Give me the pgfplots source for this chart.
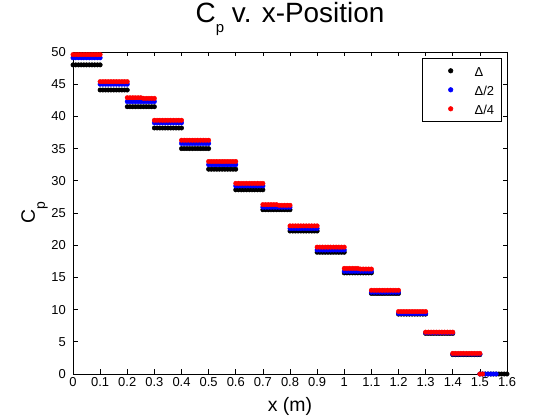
\documentclass[border=0pt]{standalone}
\usepackage{fontspec}
\setmainfont{Liberation Sans}
\usepackage{pgfplots}
\pgfplotsset{compat=1.18}
\begin{document}
\begin{tikzpicture}
\useasboundingbox (0,0) rectangle (560bp,420bp);
\begin{axis}[
  at={(73bp,46bp)}, anchor=south west,
  scale only axis, width=434bp, height=322bp,
  xmin=0, xmax=1.6, ymin=0, ymax=50,
  clip=false,
  axis line style={line width=0.6bp},
  tick align=inside, tick pos=both,
  major tick length=4.5bp,
  tick style={line width=0.6bp, black},
  xtick={0,0.1,0.2,0.3,0.4,0.5,0.6,0.7,0.8,0.9,1,1.1,1.2,1.3,1.4,1.5,1.6},
  xticklabels={0,0.1,0.2,0.3,0.4,0.5,0.6,0.7,0.8,0.9,1,1.1,1.2,1.3,1.4,1.5,1.6},
  ytick={0,5,10,15,20,25,30,35,40,45,50},
  yticklabels={0,5,10,15,20,25,30,35,40,45,50},
  ticklabel style={font=\fontsize{13}{15}\selectfont},
  yticklabel style={xshift=-3.7bp},
  /pgf/number format/assume math mode=true,
  title={C\raisebox{-10bp}{\fontsize{15}{15}\selectfont p} v. x-Position},
  title style={font=\fontsize{28}{30}\selectfont, at={(axis description cs:0.5,1.087)}, anchor=base, inner sep=0pt, yshift=-4.5bp},
  xlabel={x (m)},
  xlabel style={font=\fontsize{19.5}{22}\selectfont, at={(axis description cs:0.5,-0.1168)}, anchor=base, inner sep=0pt},
  ylabel={C\raisebox{-10bp}{\fontsize{14}{14}\selectfont p}},
  ylabel style={font=\fontsize{19.5}{22}\selectfont, at={(axis description cs:-0.0576,0.5)}, rotate=0, anchor=south, inner sep=0pt},
  legend style={at={(axis description cs:1,1)}, anchor=north east, xshift=-5bp, yshift=-6bp,
    draw=black, line width=0.6bp, fill=white, inner xsep=0pt, inner ysep=6.5bp, row sep=7bp,
    font=\fontsize{13}{15}\selectfont,
    nodes={inner sep=0pt, text height=11.5bp, text depth=0.5bp, text width=27bp}},
  legend cell align=left,
  legend image code/.code={\path[draw=none,fill=none] (-28bp,0bp) -- (24bp,0bp); \path[#1] plot[only marks] coordinates {(0bp,0bp)};},
]
\addplot[only marks, mark=*, mark size=2.25bp, black, mark options={draw=black, fill=black}] coordinates {
(0,48)(0.01,48)(0.02,48)(0.03,48)(0.04,48)(0.05,48)(0.06,48)(0.07,48)(0.08,48)(0.09,48)(0.1,48)
(0.1,44.1)(0.11,44.1)(0.12,44.1)(0.13,44.1)(0.14,44.1)(0.15,44.1)(0.16,44.1)(0.17,44.1)(0.18,44.1)(0.19,44.1)(0.2,44.1)
(0.2,41.5)(0.21,41.5)(0.22,41.5)(0.23,41.5)(0.24,41.5)(0.25,41.5)(0.26,41.5)(0.27,41.5)(0.28,41.5)(0.29,41.5)(0.3,41.5)
(0.3,38.2)(0.31,38.2)(0.32,38.2)(0.33,38.2)(0.34,38.2)(0.35,38.2)(0.36,38.2)(0.37,38.2)(0.38,38.2)(0.39,38.2)(0.4,38.2)
(0.4,35)(0.41,35)(0.42,35)(0.43,35)(0.44,35)(0.45,35)(0.46,35)(0.47,35)(0.48,35)(0.49,35)(0.5,35)
(0.5,31.8)(0.51,31.8)(0.52,31.8)(0.53,31.8)(0.54,31.8)(0.55,31.8)(0.56,31.8)(0.57,31.8)(0.58,31.8)(0.59,31.8)(0.6,31.8)
(0.6,28.6)(0.61,28.6)(0.62,28.6)(0.63,28.6)(0.64,28.6)(0.65,28.6)(0.66,28.6)(0.67,28.6)(0.68,28.6)(0.69,28.6)(0.7,28.6)
(0.7,25.5)(0.71,25.5)(0.72,25.5)(0.73,25.5)(0.74,25.5)(0.75,25.5)(0.76,25.5)(0.77,25.5)(0.78,25.5)(0.79,25.5)(0.8,25.5)
(0.8,22.2)(0.81,22.2)(0.82,22.2)(0.83,22.2)(0.84,22.2)(0.85,22.2)(0.86,22.2)(0.87,22.2)(0.88,22.2)(0.89,22.2)(0.9,22.2)
(0.9,18.9)(0.91,18.9)(0.92,18.9)(0.93,18.9)(0.94,18.9)(0.95,18.9)(0.96,18.9)(0.97,18.9)(0.98,18.9)(0.99,18.9)(1,18.9)
(1,15.7)(1.01,15.7)(1.02,15.7)(1.03,15.7)(1.04,15.7)(1.05,15.7)(1.06,15.7)(1.07,15.7)(1.08,15.7)(1.09,15.7)(1.1,15.7)
(1.1,12.5)(1.11,12.5)(1.12,12.5)(1.13,12.5)(1.14,12.5)(1.15,12.5)(1.16,12.5)(1.17,12.5)(1.18,12.5)(1.19,12.5)(1.2,12.5)
(1.2,9.3)(1.21,9.3)(1.22,9.3)(1.23,9.3)(1.24,9.3)(1.25,9.3)(1.26,9.3)(1.27,9.3)(1.28,9.3)(1.29,9.3)(1.3,9.3)
(1.3,6.3)(1.31,6.3)(1.32,6.3)(1.33,6.3)(1.34,6.3)(1.35,6.3)(1.36,6.3)(1.37,6.3)(1.38,6.3)(1.39,6.3)(1.4,6.3)
(1.4,3)(1.41,3)(1.42,3)(1.43,3)(1.44,3)(1.45,3)(1.46,3)(1.47,3)(1.48,3)(1.49,3)(1.5,3)
(1.5,0)(1.51,0)(1.52,0)(1.53,0)(1.54,0)(1.55,0)(1.56,0)(1.57,0)(1.58,0)(1.59,0)(1.6,0)
};
\addlegendentry{Δ}
\addplot[only marks, mark=*, mark size=2.25bp, blue, mark options={draw=blue, fill=blue}] coordinates {
(0,49.1)(0.01,49.1)(0.02,49.1)(0.03,49.1)(0.04,49.1)(0.05,49.1)(0.06,49.1)(0.07,49.1)(0.08,49.1)(0.09,49.1)(0.1,49.1)
(0.1,45)(0.11,45)(0.12,45)(0.13,45)(0.14,45)(0.15,45)(0.16,45)(0.17,45)(0.18,45)(0.19,45)(0.2,45)
(0.2,42.3)(0.21,42.3)(0.22,42.3)(0.23,42.3)(0.24,42.3)(0.25,42.3)(0.26,42.3)(0.27,42.3)(0.28,42.3)(0.29,42.3)(0.3,42.3)
(0.3,39)(0.31,39)(0.32,39)(0.33,39)(0.34,39)(0.35,39)(0.36,39)(0.37,39)(0.38,39)(0.39,39)(0.4,39)
(0.4,35.8)(0.41,35.8)(0.42,35.8)(0.43,35.8)(0.44,35.8)(0.45,35.8)(0.46,35.8)(0.47,35.8)(0.48,35.8)(0.49,35.8)(0.5,35.8)
(0.5,32.5)(0.51,32.5)(0.52,32.5)(0.53,32.5)(0.54,32.5)(0.55,32.5)(0.56,32.5)(0.57,32.5)(0.58,32.5)(0.59,32.5)(0.6,32.5)
(0.6,29.2)(0.61,29.2)(0.62,29.2)(0.63,29.2)(0.64,29.2)(0.65,29.2)(0.66,29.2)(0.67,29.2)(0.68,29.2)(0.69,29.2)(0.7,29.2)
(0.7,25.9)(0.71,25.9)(0.72,25.9)(0.73,25.9)(0.74,25.9)(0.75,25.9)(0.76,25.9)(0.77,25.9)(0.78,25.9)(0.79,25.9)(0.8,25.9)
(0.8,22.6)(0.81,22.6)(0.82,22.6)(0.83,22.6)(0.84,22.6)(0.85,22.6)(0.86,22.6)(0.87,22.6)(0.88,22.6)(0.89,22.6)(0.9,22.6)
(0.9,19.25)(0.91,19.25)(0.92,19.25)(0.93,19.25)(0.94,19.25)(0.95,19.25)(0.96,19.25)(0.97,19.25)(0.98,19.25)(0.99,19.25)(1,19.25)
(1,15.95)(1.01,15.95)(1.02,15.95)(1.03,15.95)(1.04,15.95)(1.05,15.95)(1.06,15.95)(1.07,15.95)(1.08,15.95)(1.09,15.95)(1.1,15.95)
(1.1,12.7)(1.11,12.7)(1.12,12.7)(1.13,12.7)(1.14,12.7)(1.15,12.7)(1.16,12.7)(1.17,12.7)(1.18,12.7)(1.19,12.7)(1.2,12.7)
(1.2,9.4)(1.21,9.4)(1.22,9.4)(1.23,9.4)(1.24,9.4)(1.25,9.4)(1.26,9.4)(1.27,9.4)(1.28,9.4)(1.29,9.4)(1.3,9.4)
(1.3,6.4)(1.31,6.4)(1.32,6.4)(1.33,6.4)(1.34,6.4)(1.35,6.4)(1.36,6.4)(1.37,6.4)(1.38,6.4)(1.39,6.4)(1.4,6.4)
(1.4,3.1)(1.41,3.1)(1.42,3.1)(1.43,3.1)(1.44,3.1)(1.45,3.1)(1.46,3.1)(1.47,3.1)(1.48,3.1)(1.49,3.1)(1.5,3.1)
(1.5,0)(1.51,0)(1.52,0)(1.53,0)(1.54,0)(1.55,0)(1.56,0)
};
\addlegendentry{Δ/2}
\addplot[only marks, mark=*, mark size=2.25bp, red, mark options={draw=red, fill=red}] coordinates {
(0,49.6)(0.01,49.6)(0.02,49.6)(0.03,49.6)(0.04,49.6)(0.05,49.6)(0.06,49.6)(0.07,49.6)(0.08,49.6)(0.09,49.6)(0.1,49.6)
(0.1,45.4)(0.11,45.4)(0.12,45.4)(0.13,45.4)(0.14,45.4)(0.15,45.4)(0.16,45.4)(0.17,45.4)(0.18,45.4)(0.19,45.4)(0.2,45.4)
(0.2,42.9)(0.21,42.9)(0.22,42.9)(0.23,42.9)(0.24,42.9)(0.25,42.9)(0.26,42.8)(0.27,42.8)(0.28,42.8)(0.29,42.8)(0.3,42.8)
(0.3,39.4)(0.31,39.4)(0.32,39.4)(0.33,39.4)(0.34,39.4)(0.35,39.4)(0.36,39.4)(0.37,39.4)(0.38,39.4)(0.39,39.4)(0.4,39.4)
(0.4,36.3)(0.41,36.3)(0.42,36.3)(0.43,36.3)(0.44,36.3)(0.45,36.3)(0.46,36.3)(0.47,36.3)(0.48,36.3)(0.49,36.3)(0.5,36.3)
(0.5,33)(0.51,33)(0.52,33)(0.53,33)(0.54,33)(0.55,33)(0.56,33)(0.57,33)(0.58,33)(0.59,33)(0.6,33)
(0.6,29.6)(0.61,29.6)(0.62,29.6)(0.63,29.6)(0.64,29.6)(0.65,29.6)(0.66,29.6)(0.67,29.6)(0.68,29.6)(0.69,29.6)(0.7,29.6)
(0.7,26.3)(0.71,26.3)(0.72,26.3)(0.73,26.3)(0.74,26.3)(0.75,26.3)(0.76,26.2)(0.77,26.2)(0.78,26.2)(0.79,26.2)(0.8,26.2)
(0.8,23)(0.81,23)(0.82,23)(0.83,23)(0.84,23)(0.85,23)(0.86,23)(0.87,23)(0.88,23)(0.89,23)(0.9,23)
(0.9,19.7)(0.91,19.7)(0.92,19.7)(0.93,19.7)(0.94,19.7)(0.95,19.7)(0.96,19.7)(0.97,19.7)(0.98,19.7)(0.99,19.7)(1,19.7)
(1,16.4)(1.01,16.4)(1.02,16.4)(1.03,16.4)(1.04,16.4)(1.05,16.4)(1.06,16.3)(1.07,16.3)(1.08,16.3)(1.09,16.3)(1.1,16.3)
(1.1,13)(1.11,13)(1.12,13)(1.13,13)(1.14,13)(1.15,13)(1.16,13)(1.17,13)(1.18,13)(1.19,13)(1.2,13)
(1.2,9.7)(1.21,9.7)(1.22,9.7)(1.23,9.7)(1.24,9.7)(1.25,9.7)(1.26,9.7)(1.27,9.7)(1.28,9.7)(1.29,9.7)(1.3,9.7)
(1.3,6.5)(1.31,6.5)(1.32,6.5)(1.33,6.5)(1.34,6.5)(1.35,6.5)(1.36,6.5)(1.37,6.5)(1.38,6.5)(1.39,6.5)(1.4,6.5)
(1.4,3.2)(1.41,3.2)(1.42,3.2)(1.43,3.2)(1.44,3.2)(1.45,3.2)(1.46,3.2)(1.47,3.2)(1.48,3.2)(1.49,3.2)(1.5,3.2)
(1.5,0)(1.51,0)
};
\addlegendentry{Δ/4}
\end{axis}
\end{tikzpicture}
\end{document}
